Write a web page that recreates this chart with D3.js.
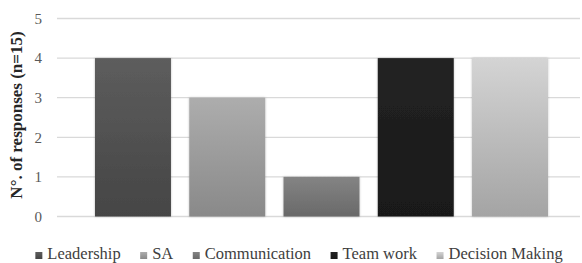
<!DOCTYPE html>
<html>
<head>
<meta charset="utf-8">
<script src="https://cdn.jsdelivr.net/npm/d3@7"></script>
<style>
  body { margin: 0; background: #fff; }
  svg { display: block; }
</style>
</head>
<body>
<div id="chart"></div>
<script>
// data
var categories = ["Leadership", "SA", "Communication", "Team work", "Decision Making"];
var responses = [4, 3, 1, 4, 4];
var yTicks = [0, 1, 2, 3, 4, 5];
var yTitle = "N°. of responses (n=15)";

// top / bottom gradient shades for each bar
var topShade = ["#5d5d5d", "#adadad", "#848484", "#232323", "#d4d4d4"];
var bottomShade = ["#454545", "#898989", "#696969", "#191919", "#a4a4a4"];

var width = 582,
    height = 263,
    serif = "serif";

var svg = d3.select("#chart").append("svg")
    .attr("width", width)
    .attr("height", height);

var defs = svg.append("defs");

categories.forEach(function(c, i) {
  var g = defs.append("linearGradient")
      .attr("id", "grad" + i)
      .attr("x1", 0).attr("y1", 0).attr("x2", 0).attr("y2", 1);
  g.append("stop").attr("offset", "0%").attr("stop-color", topShade[i]);
  g.append("stop").attr("offset", "100%").attr("stop-color", bottomShade[i]);
});

var shadow = defs.append("filter")
    .attr("id", "shadow")
    .attr("x", "-10%").attr("y", "-10%").attr("width", "120%").attr("height", "120%");
shadow.append("feDropShadow")
    .attr("dx", 0).attr("dy", 0).attr("stdDeviation", 1)
    .attr("flood-color", "#000").attr("flood-opacity", 0.25);

var x = d3.scaleBand()
    .domain(categories)
    .range([57, 586])
    .paddingInner(0.194)
    .paddingOuter(0.403);

var y = d3.scaleLinear()
    .domain([0, 5])
    .range([216.5, 18.5]);

// gridlines
svg.append("g")
    .selectAll("line")
    .data(yTicks)
  .enter().append("line")
    .attr("x1", 57)
    .attr("x2", 580)
    .attr("y1", function(d) { return y(d); })
    .attr("y2", function(d) { return y(d); })
    .attr("stroke", "#d9d9d9")
    .attr("stroke-width", 1.3);

// y tick labels
var yAxis = svg.append("g")
    .attr("transform", "translate(42,0)")
    .call(d3.axisLeft(y).tickValues(yTicks).tickFormat(d3.format("d")).tickSize(0).tickPadding(0))
    .attr("font-family", serif)
    .attr("font-size", 15);
yAxis.select(".domain").remove();
yAxis.selectAll("text")
    .attr("fill", "#595959");

// bars
svg.append("g")
    .selectAll("rect")
    .data(responses)
  .enter().append("rect")
    .attr("x", function(d, i) { return x(categories[i]); })
    .attr("y", function(d) { return y(d); })
    .attr("width", x.bandwidth())
    .attr("height", function(d) { return y(0) - y(d); })
    .attr("fill", function(d, i) { return "url(#grad" + i + ")"; })
    .attr("filter", "url(#shadow)");

// y title
svg.append("text")
    .attr("transform", "translate(22,115)rotate(-90)")
    .attr("text-anchor", "middle")
    .attr("fill", "#262626")
    .attr("font-family", serif)
    .attr("font-size", 17)
    .attr("font-weight", "bold")
    .text(yTitle);

// legend
var legend = svg.append("g")
    .attr("font-family", serif)
    .attr("font-size", 16.5);
var items = legend.selectAll("g")
    .data(categories)
  .enter().append("g");

items.append("rect")
    .attr("width", 7)
    .attr("height", 7)
    .attr("y", -7)
    .attr("fill", function(d, i) { return "url(#grad" + i + ")"; });

items.append("text")
    .attr("x", 12)
    .attr("fill", "#404040")
    .text(function(d) { return d; });

var gap = 19.5, pos = 0, widths = [];
items.each(function() {
  var w = 12 + d3.select(this).select("text").node().getComputedTextLength();
  widths.push(w);
});
var total = d3.sum(widths) + gap * (widths.length - 1);
var start = 299 - total / 2;
items.attr("transform", function(d, i) {
  var t = "translate(" + (start + pos) + ",259)";
  pos += widths[i] + gap;
  return t;
});
</script>
</body>
</html>
